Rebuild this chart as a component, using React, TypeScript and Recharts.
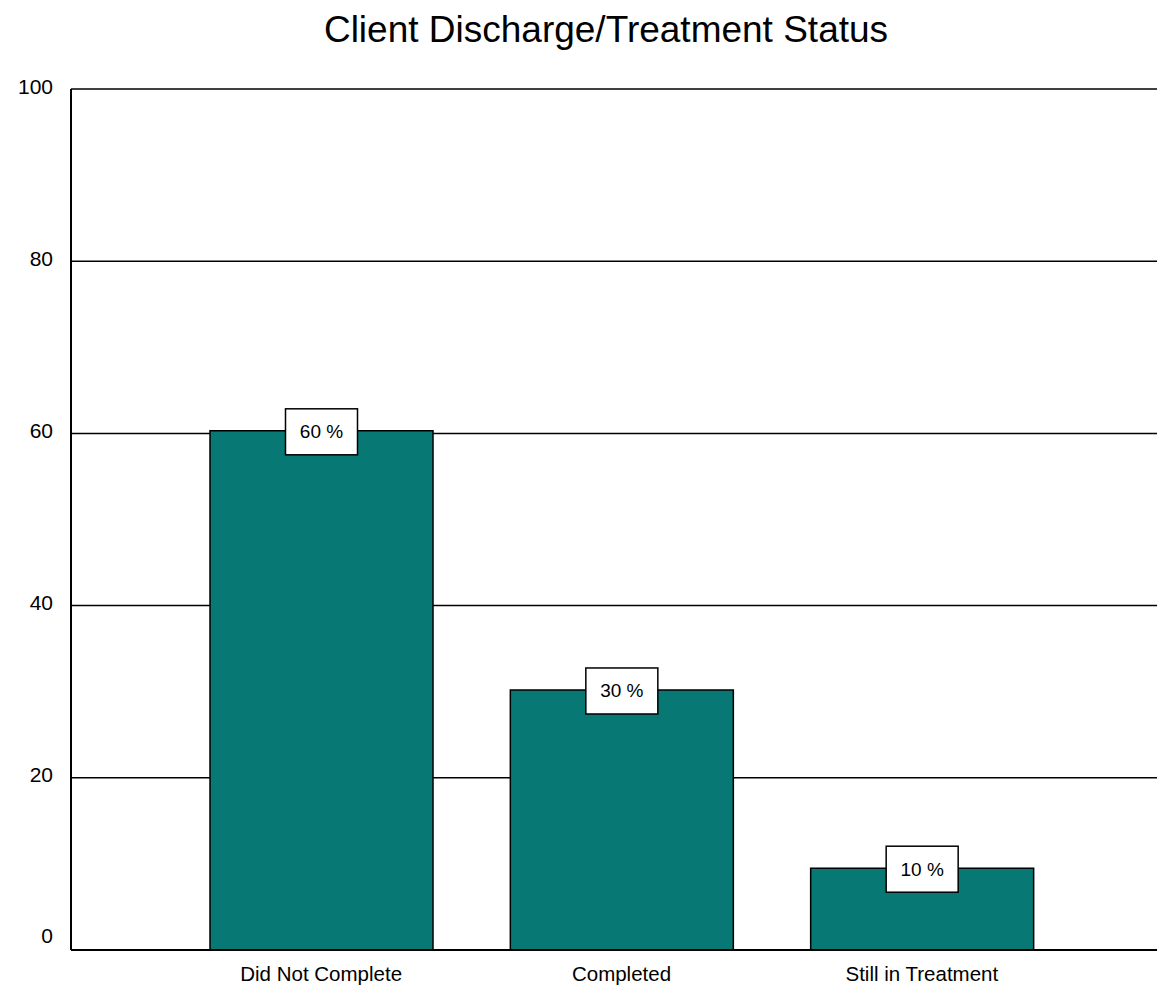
import React from "react";
import { BarChart, Bar, XAxis, YAxis, CartesianGrid, LabelList } from "recharts";

const categories = ["Did Not Complete", "Completed", "Still in Treatment"];
const percents = [60.3, 30.2, 9.5];
const yTicks = [0, 20, 40, 60, 80, 100];

const data = categories.map((name, i) => ({ name, value: percents[i] }));

const FONT = "'Liberation Sans', Arial, sans-serif";
const TEAL = "#077874";

const YTick = (props: any) => {
  const { x, y, payload } = props;
  // the bottom label sits a bit above the axis line, like in the original
  const dy = payload.value === 0 ? -15 : -3;
  return (
    <text
      x={x - 10}
      y={y + dy}
      textAnchor="end"
      dominantBaseline="central"
      fontSize={21}
      fontFamily={FONT}
      fill="#000"
    >
      {payload.value}
    </text>
  );
};

const XTick = (props: any) => {
  const { x, y, payload } = props;
  return (
    <text
      x={x}
      y={y + 15}
      textAnchor="middle"
      dominantBaseline="central"
      fontSize={20.5}
      fontFamily={FONT}
      fill="#000"
    >
      {payload.value}
    </text>
  );
};

const ValueBox = (props: any) => {
  const { x, y, width, value } = props;
  const cx = x + width / 2;
  return (
    <g>
      <rect x={cx - 36} y={y - 22} width={72} height={46} fill="#fff" stroke="#000" strokeWidth={1.5} />
      <text
        x={cx}
        y={y + 1}
        textAnchor="middle"
        dominantBaseline="central"
        fontSize={19}
        fontFamily={FONT}
        fill="#000"
      >
        {`${Math.round(value)} %`}
      </text>
    </g>
  );
};

export default function App() {
  return (
    <div
      style={{
        position: "absolute",
        left: 0,
        top: 0,
        width: 1157,
        height: 990,
        overflow: "hidden",
        background: "#fff",
      }}
    >
      <div
        style={{
          position: "absolute",
          left: 0,
          width: 1212,
          top: 10,
          textAlign: "center",
          fontFamily: FONT,
          fontSize: 37,
          lineHeight: "40px",
          color: "#000",
        }}
      >
        Client Discharge/Treatment Status
      </div>
      <BarChart
        width={1172}
        height={990}
        data={data}
        margin={{ top: 89, right: 0, bottom: 0, left: 0 }}
      >
        <CartesianGrid vertical={false} stroke="#000" strokeWidth={1.5} strokeOpacity={1} />
        <XAxis
          dataKey="name"
          height={40}
          padding={{ left: 100, right: 100 }}
          axisLine={{ stroke: "#000", strokeWidth: 2 }}
          tickLine={false}
          tick={<XTick />}
          interval={0}
        />
        <YAxis
          width={71}
          domain={[0, 100]}
          ticks={yTicks}
          axisLine={{ stroke: "#000", strokeWidth: 2 }}
          tickLine={false}
          tick={<YTick />}
          interval={0}
        />
        <Bar dataKey="value" fill={TEAL} stroke="#000" strokeWidth={1.5} barSize={223} isAnimationActive={false}>
          <LabelList dataKey="value" content={<ValueBox />} />
        </Bar>
      </BarChart>
    </div>
  );
}
